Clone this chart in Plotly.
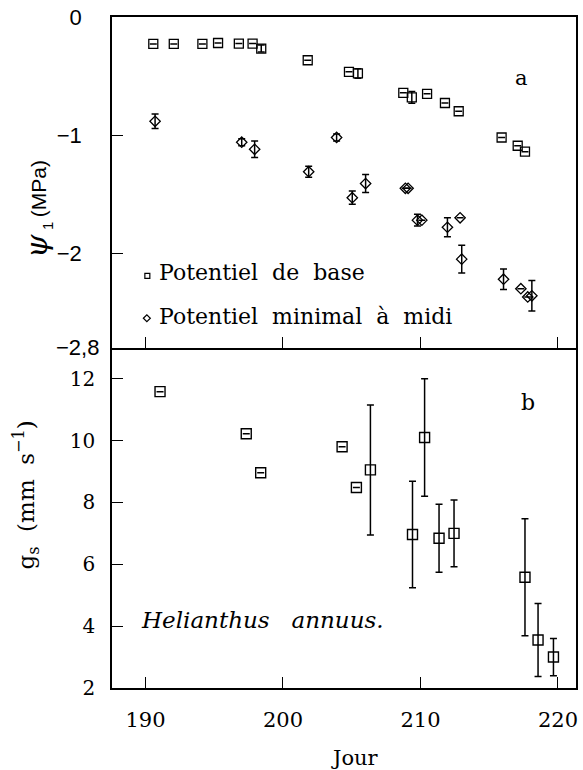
import plotly.graph_objects as go

# ---------------- data ----------------
# Panel a: leaf water potential (MPa)
base_day = [190.57, 192.06, 194.14, 195.28, 196.79, 197.79, 198.42, 201.8, 204.8, 205.45,
            208.75, 209.37, 210.48, 211.78, 212.78, 215.9, 217.07, 217.6]
base_psi = [-0.228, -0.228, -0.228, -0.22, -0.225, -0.225, -0.267, -0.366, -0.464, -0.478,
            -0.642, -0.68, -0.65, -0.728, -0.798, -1.02, -1.09, -1.14]
base_err = [None, None, None, None, None, None, 0.03, None, None, 0.04,
            None, 0.05, None, None, None, None, None, None]

mid_day = [190.7, 197.0, 197.94, 201.87, 203.9, 205.04, 206.01, 208.9, 209.1, 209.78,
           210.1, 211.96, 212.88, 213.0, 216.04, 217.3, 217.8, 218.1]
mid_psi = [-0.883, -1.06, -1.12, -1.31, -1.02, -1.53, -1.41, -1.45, -1.45, -1.72,
           -1.72, -1.78, -1.70, -2.05, -2.22, -2.30, -2.37, -2.36]
mid_err = [0.062, 0.03, 0.07, 0.047, 0.03, 0.056, 0.076, None, None, 0.05,
           None, 0.08, None, 0.118, 0.087, None, None, 0.13]

# Panel b: stomatal conductance (mm s-1)
gs_day = [191.06, 197.33, 198.38, 204.3, 205.34, 206.36, 209.42, 210.3, 211.35, 212.44,
          217.6, 218.55, 219.67]
gs_val = [11.58, 10.22, 8.96, 9.80, 8.48, 9.05, 6.96, 10.10, 6.84, 7.0,
          5.58, 3.55, 3.0]
gs_err = [None, None, None, None, None, 2.1, 1.72, 1.9, 1.1, 1.08,
          1.89, 1.18, 0.6]

x_ticks = [190, 200, 210, 220]
psi_ticks = [0, -1, -2]
psi_ticktext = ["0\u2002", "\u22121\u2002", "\u22122\u2002"]
psi_bottom = -2.8
psi_bottom_text = "\u22122,8"
gs_ticks = [2, 4, 6, 8, 10, 12]

legend_labels = ["Potentiel\u00a0 de\u00a0 base", "Potentiel\u00a0 minimal\u00a0 à\u00a0 midi"]

# ---------------- figure ----------------
SERIF = "DejaVu Serif"
SANS = "Liberation Sans"
W, H = 583, 770
ML, MR, MT, MB = 112, 5, 13, 82
PW, PH = W - ML - MR, H - MT - MB


def px(xp):
    return (xp - ML) / PW


def py(yp):
    return (H - MB - yp) / PH


split = py(345.7)

fig = go.Figure()

err_style = dict(type="data", symmetric=True, color="black", thickness=1.5, width=3.5)

fig.add_trace(go.Scatter(
    x=base_day, y=base_psi, mode="markers", xaxis="x", yaxis="y",
    marker=dict(symbol="square-open", size=9, color="black", line=dict(width=1.3, color="black")),
    error_y=dict(array=base_err, **err_style), showlegend=False))

fig.add_trace(go.Scatter(
    x=mid_day, y=mid_psi, mode="markers", xaxis="x", yaxis="y",
    marker=dict(symbol="diamond-open", size=8, color="black", line=dict(width=1.3, color="black")),
    error_y=dict(array=mid_err, **err_style), showlegend=False))

fig.add_trace(go.Scatter(
    x=gs_day, y=gs_val, mode="markers", xaxis="x2", yaxis="y2",
    marker=dict(symbol="square-open", size=10, color="black", line=dict(width=1.4, color="black")),
    error_y=dict(array=gs_err, **err_style), showlegend=False))

xr = [187.567, 221.31]
axis_common = dict(showline=True, linecolor="black", linewidth=1.6,
                   ticks="inside", ticklen=11, tickwidth=1.4, tickcolor="black",
                   showgrid=False, zeroline=False)

fig.update_layout(
    width=W, height=H,
    margin=dict(l=ML, r=MR, t=MT, b=MB),
    paper_bgcolor="white", plot_bgcolor="white",
    showlegend=False,
    xaxis=dict(range=xr, tickvals=x_ticks, showticklabels=False, anchor="y", mirror=True,
               **axis_common),
    yaxis=dict(range=[-2.8, 0], domain=[split, 1], tickvals=psi_ticks, ticktext=psi_ticktext,
               tickfont=dict(family=SANS, size=22, color="black"), anchor="x", mirror=True,
               ticklabelstandoff=13, **axis_common),
    xaxis2=dict(range=xr, tickvals=x_ticks, anchor="y2", mirror=False,
                tickfont=dict(family=SERIF, size=21, color="black"),
                ticklabelstandoff=12, **axis_common),
    yaxis2=dict(range=[2, 13], domain=[0, split], tickvals=gs_ticks, anchor="x2", mirror=True,
                tickfont=dict(family=SERIF, size=20, color="black"),
                ticklabelstandoff=11, **axis_common),
)

ann = []
# bottom label of the psi axis
ann.append(dict(x=px(101), y=psi_bottom, xref="paper", yref="y", showarrow=False,
                text=psi_bottom_text, xanchor="right", yanchor="middle",
                font=dict(family=SANS, size=22, color="black")))
# axis titles
ann.append(dict(x=px(356), y=py(758), xref="paper", yref="paper", showarrow=False,
                text="Jour", font=dict(family=SERIF, size=21, color="black"),
                xanchor="center", yanchor="middle"))
# psi_1 (MPa) built from three rotated pieces
ann.append(dict(x=px(36), y=py(243), xref="paper", yref="paper", showarrow=False,
                textangle=-90, text="<i>ψ</i>",
                font=dict(family=SERIF, size=30, color="black"),
                xanchor="center", yanchor="middle"))
ann.append(dict(x=px(47), y=py(223), xref="paper", yref="paper", showarrow=False,
                textangle=-90, text="1",
                font=dict(family=SANS, size=15, color="black"),
                xanchor="center", yanchor="middle"))
ann.append(dict(x=px(39), y=py(186), xref="paper", yref="paper", showarrow=False,
                textangle=-90, text="(MPa)",
                font=dict(family=SANS, size=21, color="black"),
                xanchor="center", yanchor="middle"))
ann.append(dict(x=px(25), y=py(494), xref="paper", yref="paper", showarrow=False,
                textangle=-90,
                text="g<sub>s</sub>\u00a0 (mm\u00a0 s<sup>\u22121</sup>)",
                font=dict(family=SERIF, size=23, color="black"),
                xanchor="center", yanchor="middle"))
# panel letters
ann.append(dict(x=px(523), y=py(74), xref="paper", yref="paper", showarrow=False,
                text="a", xanchor="center", yanchor="middle",
                font=dict(family=SERIF, size=21, color="black")))
ann.append(dict(x=px(530), y=py(401), xref="paper", yref="paper", showarrow=False,
                text="b", xanchor="center", yanchor="middle",
                font=dict(family=SERIF, size=22, color="black")))
# species
ann.append(dict(x=px(139), y=py(620), xref="paper", yref="paper", showarrow=False,
                text="<i>Helianthus\u00a0\u00a0 annuus.</i>", xanchor="left", yanchor="middle",
                font=dict(family=SERIF, size=23, color="black")))
# legend texts
ann.append(dict(x=px(157), y=py(270), xref="paper", yref="paper", showarrow=False,
                text=legend_labels[0], xanchor="left", yanchor="middle",
                font=dict(family=SERIF, size=22, color="black")))
ann.append(dict(x=px(157), y=py(314), xref="paper", yref="paper", showarrow=False,
                text=legend_labels[1], xanchor="left", yanchor="middle",
                font=dict(family=SERIF, size=22, color="black")))
fig.update_layout(annotations=ann)

# legend keys
sq_c, sq_h = (147.5, 273.5), 2.5
di_c, di_h = (147.0, 316.0), 3.5
shapes = [
    dict(type="rect", xref="paper", yref="paper",
         x0=px(sq_c[0] - sq_h), x1=px(sq_c[0] + sq_h),
         y0=py(sq_c[1] + sq_h), y1=py(sq_c[1] - sq_h),
         line=dict(color="black", width=1.2)),
    dict(type="path", xref="paper", yref="paper",
         path=(f"M {px(di_c[0] - di_h)} {py(di_c[1])} L {px(di_c[0])} {py(di_c[1] - di_h)} "
               f"L {px(di_c[0] + di_h)} {py(di_c[1])} L {px(di_c[0])} {py(di_c[1] + di_h)} Z"),
         line=dict(color="black", width=1.2)),
]
fig.update_layout(shapes=shapes)

fig.write_html("out.html", config={"displayModeBar": False},
               post_script="document.body.style.margin='0';")
